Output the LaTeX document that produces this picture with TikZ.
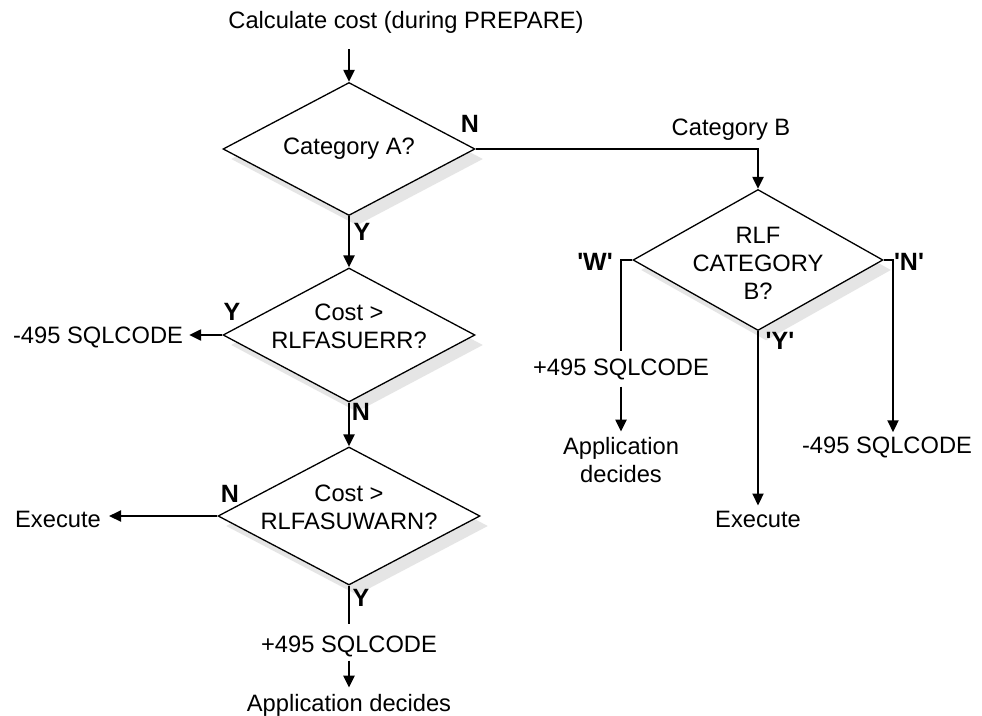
\documentclass[tikz,border=0pt]{standalone}
\usepackage{fontspec}
\setmainfont{Liberation Sans}
\usetikzlibrary{shapes.geometric,shadows,arrows.meta}
\begin{document}
\begin{tikzpicture}[x=1pt,y=-1pt,
  dia/.style={diamond, draw, line width=1.3pt, fill=white, inner sep=0pt,
    drop shadow={shadow xshift=8pt, shadow yshift=-10pt, fill=black!10, opacity=1, draw=none}},
  txt/.style={font=\fontsize{23.7}{28}\selectfont, inner sep=0pt, align=center},
  lbl/.style={font=\fontsize{25}{28}\selectfont\bfseries, inner sep=0pt},
  conn/.style={line width=2.2pt},
  arr/.style={conn, -{Triangle[length=12pt,width=11pt]}}]
\useasboundingbox (0,0) rectangle (982,715);
\fill[white] (0,0) rectangle (982,715);

% title and start
\node[txt, anchor=base] (title) at (406,28) {Calculate cost (during PREPARE)};
\coordinate (s) at (349,49);

% decisions
\node[dia, minimum width=252pt, minimum height=133pt,
  label={[txt]center:Category A?}] (d1) at (349,149) {};
\node[dia, minimum width=252pt, minimum height=134pt,
  label={[txt, yshift=9pt]center:Cost >\\RLFASUERR?}] (d2) at (349,335) {};
\node[dia, minimum width=262pt, minimum height=138pt,
  label={[txt, yshift=9pt]center:Cost >\\RLFASUWARN?}] (d3) at (349,516) {};
\node[dia, minimum width=250pt, minimum height=141pt,
  label={[txt, yshift=-3pt]center:RLF\\CATEGORY\\B?}] (d4) at (758,260) {};

% outcome texts
\node[txt, anchor=base] (neg1) at (98,343) {-495 SQLCODE};
\node[txt, anchor=base] (exe1) at (58,527) {Execute};
\node[txt, anchor=base] (pl1) at (349,652) {+495 SQLCODE};
\node[txt, anchor=base] (app1) at (349,711) {Application decides};
\node[txt, anchor=base] (catB) at (731,135) {Category B};
\node[txt, anchor=base] (pl2) at (621,375) {+495 SQLCODE};
\node[txt] (app2) at (621,460.5) {Application\\decides};
\node[txt, anchor=base] (neg2) at (887,453) {-495 SQLCODE};
\node[txt, anchor=base] (exe2) at (758,527) {Execute};

% branch labels
\node[lbl] (ln1) at (470,124) {N};
\node[lbl] (ly1) at (362,232) {Y};
\node[lbl] (ly2) at (232,312) {Y};
\node[lbl] (ln2) at (361,412) {N};
\node[lbl] (ln3) at (230,494) {N};
\node[lbl] (ly3) at (361,598) {Y};
\node[lbl] (lw4) at (595,262) {\textquotesingle W\textquotesingle};
\node[lbl] (ln4) at (909,262) {\textquotesingle N\textquotesingle};
\node[lbl] (ly4) at (780,341) {\textquotesingle Y\textquotesingle};

% connectors
\draw[arr] (s) -- (d1.north);
\draw[arr] (d1.east) -| (d4.north);
\draw[arr] (d1.south) -- (d2.north);
\draw[arr, shorten >=6pt] (d2.west) -- (d2.west -| neg1.east);
\draw[arr] (d2.south) -- (d3.north);
\draw[arr, shorten >=8pt] (d3.west) -- (d3.west -| exe1.east);
\draw[conn, shorten >=11pt] (d3.south) -- (pl1.north);
\draw[arr, shorten <=4pt, shorten >=6pt] (pl1.south) -- (app1.north);
\draw[conn, shorten >=7pt] (d4.west) -| (pl2.north);
\draw[arr, shorten <=7pt, shorten >=6pt] (pl2.south) -- (app2.north);
\draw[arr, shorten >=4pt] (d4.east) -| ([xshift=6pt]neg2.north);
\draw[arr, shorten >=5pt] (d4.south) -- (exe2.north);
\end{tikzpicture}
\end{document}
